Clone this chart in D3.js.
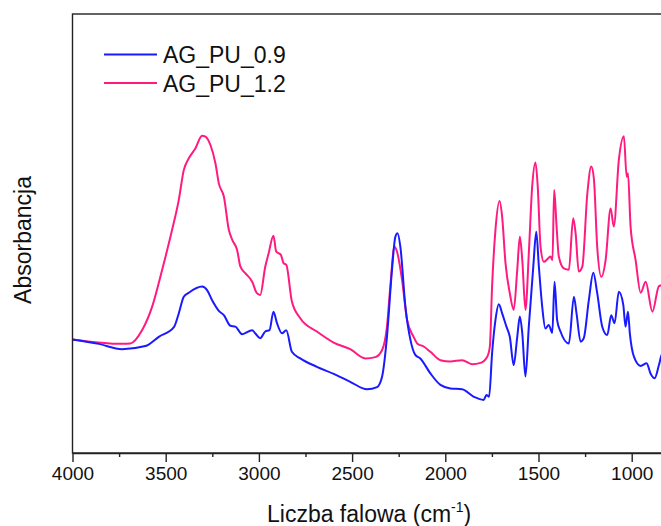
<!DOCTYPE html>
<html>
<head>
<meta charset="utf-8">
<script src="https://cdn.jsdelivr.net/npm/d3@7"></script>
<style>
  body { margin: 0; background: #fff; }
  svg { display: block; font-family: "Liberation Sans", Arial, sans-serif; }
</style>
</head>
<body>
<div id="chart"></div>
<script>
// series names (legend order)
var seriesNames = ["AG_PU_0.9", "AG_PU_1.2"];
var seriesColors = ["#1a1aff", "#ff1a80"];

// AG_PU_0.9 : wavenumber (cm-1) / absorbance (a.u.)
var wnPU09 = [4000,3859,3734,3609,3537,3456,3430,3403,3376,3305,3278,3251,3215,3188,3153,3126,3090,3036,3020,2993,2966,2943,2922,2903,2876,2853,2823,2778,2689,2599,2510,2420,2366,2339,2313,2286,2268,2256,2241,2214,2187,2161,2134,2080,2026,1973,1910,1847,1794,1779,1765,1749,1731,1713,1695,1672,1654,1633,1614,1600,1587,1570,1552,1528,1512,1498,1480,1463,1445,1426,1414,1400,1382,1337,1310,1296,1274,1257,1230,1206,1185,1158,1131,1110,1092,1069,1045,1033,1020,1010,988,952,920,899,877,854,839,800];
var absPU09 = [0.262,0.252,0.240,0.247,0.268,0.290,0.321,0.359,0.368,0.382,0.374,0.351,0.327,0.317,0.293,0.291,0.274,0.283,0.276,0.265,0.280,0.283,0.325,0.299,0.276,0.283,0.234,0.219,0.200,0.184,0.166,0.149,0.154,0.178,0.268,0.420,0.495,0.503,0.472,0.336,0.261,0.227,0.219,0.185,0.159,0.151,0.149,0.132,0.125,0.136,0.132,0.231,0.306,0.342,0.321,0.291,0.268,0.204,0.268,0.314,0.276,0.178,0.291,0.427,0.506,0.427,0.336,0.287,0.295,0.277,0.393,0.306,0.280,0.253,0.359,0.321,0.257,0.265,0.351,0.413,0.367,0.291,0.272,0.317,0.299,0.370,0.340,0.291,0.325,0.276,0.223,0.202,0.208,0.185,0.174,0.204,0.227,0.240];

// AG_PU_1.2
var wnPU12 = [4000,3734,3690,3627,3573,3519,3466,3430,3403,3376,3341,3305,3287,3260,3233,3215,3188,3161,3143,3117,3099,3072,3036,3011,2993,2966,2948,2922,2907,2882,2868,2853,2823,2778,2689,2599,2510,2429,2375,2339,2313,2295,2273,2259,2232,2205,2170,2151,2116,2080,2026,1973,1910,1856,1811,1775,1761,1749,1731,1709,1695,1677,1654,1633,1614,1600,1587,1570,1552,1534,1516,1504,1489,1471,1453,1436,1425,1416,1403,1391,1364,1337,1314,1301,1284,1265,1238,1217,1203,1185,1163,1140,1113,1096,1069,1042,1027,1020,1006,979,952,925,889,854,839,800];
var absPU12 = [0.262,0.252,0.253,0.283,0.336,0.420,0.510,0.578,0.646,0.673,0.695,0.724,0.722,0.703,0.661,0.616,0.586,0.510,0.488,0.465,0.427,0.412,0.393,0.367,0.363,0.427,0.457,0.497,0.461,0.454,0.435,0.431,0.348,0.310,0.280,0.255,0.240,0.219,0.222,0.238,0.291,0.382,0.472,0.461,0.397,0.306,0.268,0.253,0.246,0.234,0.215,0.212,0.215,0.206,0.209,0.223,0.246,0.382,0.510,0.576,0.540,0.435,0.367,0.329,0.420,0.495,0.442,0.329,0.457,0.608,0.663,0.608,0.472,0.438,0.444,0.450,0.442,0.601,0.518,0.450,0.423,0.420,0.537,0.503,0.416,0.427,0.593,0.654,0.627,0.472,0.404,0.442,0.559,0.518,0.669,0.723,0.631,0.639,0.518,0.442,0.368,0.393,0.325,0.383,0.385,0.390];

// x ticks
var majorTicks = [4000, 3500, 3000, 2500, 2000, 1500, 1000];
var minorTicks = [3750, 3250, 2750, 2250, 1750, 1250, 750];

var width = 661, height = 526;
var margin = {top: 14, left: 72.5};
var plotBottom = 453;

var svg = d3.select("#chart").append("svg")
  .attr("width", width)
  .attr("height", height);

// x axis is reversed, the window cuts the right part of the frame
var x = d3.scaleLinear().domain([4000, 600]).range([margin.left, margin.left + 3400 / 500 * 93.2]);
var y = d3.scaleLinear().domain([0, 1]).range([455, 14]);

svg.append("clipPath").attr("id", "plotclip")
  .append("rect")
  .attr("x", margin.left).attr("y", margin.top)
  .attr("width", x(600) - margin.left).attr("height", plotBottom - margin.top);

var line = d3.line()
  .x(function(d) { return x(d.wn); })
  .y(function(d) { return y(d.a); })
  .curve(d3.curveMonotoneX);

var series = [
  {name: seriesNames[1], color: seriesColors[1], values: wnPU12.map(function(w, i) { return {wn: w, a: absPU12[i]}; })},
  {name: seriesNames[0], color: seriesColors[0], values: wnPU09.map(function(w, i) { return {wn: w, a: absPU09[i]}; })}
];

svg.append("g").attr("clip-path", "url(#plotclip)")
  .selectAll("path")
  .data(series)
  .enter().append("path")
  .attr("d", function(d) { return line(d.values); })
  .attr("fill", "none")
  .attr("stroke", function(d) { return d.color; })
  .attr("stroke-width", 2)
  .attr("stroke-linejoin", "round");

// frame
svg.append("rect")
  .attr("x", margin.left).attr("y", margin.top)
  .attr("width", x(600) - margin.left).attr("height", plotBottom - margin.top)
  .attr("fill", "none")
  .attr("stroke", "#222")
  .attr("stroke-width", 1.4);

// bottom axis
var xAxis = svg.append("g")
  .attr("transform", "translate(0," + plotBottom + ")")
  .call(d3.axisBottom(x).tickValues(majorTicks).tickFormat(d3.format("d"))
    .tickSize(9).tickPadding(5).tickSizeOuter(0));
xAxis.select(".domain").attr("stroke", "#222").attr("stroke-width", 1.4);
xAxis.selectAll(".tick line").attr("stroke", "#222").attr("stroke-width", 1.4);
xAxis.selectAll("text").attr("font-size", "19px").attr("fill", "#111")
  .attr("font-family", "'Liberation Sans', Arial, sans-serif");

var xMinor = svg.append("g")
  .attr("transform", "translate(0," + plotBottom + ")")
  .call(d3.axisBottom(x).tickValues(minorTicks).tickSize(4).tickFormat(""));
xMinor.select(".domain").remove();
xMinor.selectAll(".tick line").attr("stroke", "#222").attr("stroke-width", 1.4);

// axis titles
var xTitle = svg.append("text")
  .attr("x", 267).attr("y", 522)
  .attr("font-size", "23px").attr("fill", "#111");
xTitle.append("tspan").text("Liczba falowa (cm");
xTitle.append("tspan").attr("font-size", "14px").attr("dy", -10).text("-1");
xTitle.append("tspan").attr("dy", 10).text(")");

svg.append("text")
  .attr("transform", "translate(31,240)rotate(-90)")
  .attr("text-anchor", "middle")
  .attr("font-size", "23px").attr("fill", "#111")
  .text("Absorbancja");

// legend
var legend = svg.append("g");
var legendItems = legend.selectAll("g")
  .data(seriesNames)
  .enter().append("g")
  .attr("transform", function(d, i) { return "translate(104," + (54.5 + i * 28.5) + ")"; });
legendItems.append("line")
  .attr("x1", 0).attr("x2", 53)
  .attr("stroke", function(d, i) { return seriesColors[i]; })
  .attr("stroke-width", 2);
legendItems.append("text")
  .attr("x", 59).attr("y", 8.5)
  .attr("font-size", "23px").attr("fill", "#111")
  .text(function(d) { return d; });
</script>
</body>
</html>
